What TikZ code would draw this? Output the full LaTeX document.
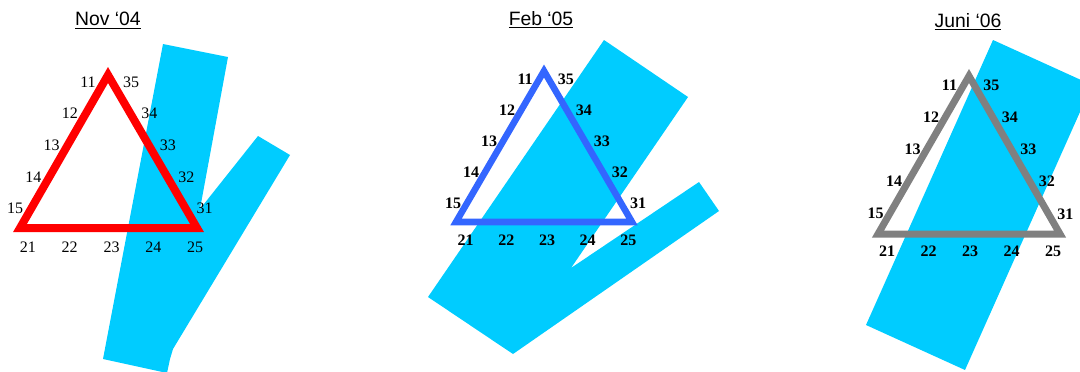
\documentclass[tikz,border=0pt]{standalone}
\usepackage{fontspec}
\setmainfont{Liberation Serif}
\newfontfamily\headfont{Liberation Sans}
\usepackage{xcolor}
\usepackage{tikz}
\usetikzlibrary{calc,positioning}
\definecolor{ZoneCyan}{HTML}{00CCFF}
\definecolor{TriRed}{HTML}{FF0000}
\definecolor{TriBlue}{HTML}{3366FF}
\definecolor{TriGray}{HTML}{808080}

\tikzset{
  zone/.style={fill=ZoneCyan},
  tri/.style={line width=#1, line join=miter},
  num/.style={font=\fontsize{12}{14}\selectfont, inner sep=0pt, text=black},
  numbold/.style={font=\fontsize{12}{14}\selectfont\bfseries, inner sep=0pt, text=black},
  headline/.style={font=\headfont\fontsize{14.5}{16}\selectfont, anchor=base, inner sep=0pt}
}

\begin{document}
\begin{tikzpicture}[x=0.75pt,y=-0.75pt]
  \useasboundingbox (0,0) rectangle (1080,371);
  \clip (0,0) rectangle (1080,371);

  % Nov '04
  \node[headline] (novtitle) at (108,26) {\underline{Nov ‘04}};
  \fill[zone] (163,44) -- (228,57) -- (200,209) -- (258,136) -- (290,155) -- (173,349)
    .. controls (171,354) .. (170,359) -- (167,373) -- (103,359) -- cycle;
  \coordinate (nova) at (108,75);
  \coordinate (novb) at (20,228);
  \coordinate (novc) at (197,228);
  \draw[tri=6pt,TriRed] (nova) -- (novb) -- (novc) -- cycle;
  \foreach \k in {0,...,4} {
    \pgfmathsetmacro\f{0.045+0.207*\k}
    \pgfmathsetmacro\g{0.045+0.236*\k}
    \pgfmathtruncatemacro\l{11+\k}
    \pgfmathtruncatemacro\r{35-\k}
    \pgfmathtruncatemacro\b{21+\k}
    \node[num] (nov\l) at ($(nova)!\f!(novb)+(-16,0)$) {\l};
    \node[num] (nov\r) at ($(nova)!\f!(novc)+(19,0)$) {\r};
    \node[num] (nov\b) at ($(novb)!\g!(novc)+(0,19)$) {\b};
  }

  % Feb '05
  \node[headline] (febtitle) at (541,25) {\underline{Feb ‘05}};
  \fill[zone] (604,40) -- (688,97) -- (571,268) -- (699,182) -- (719,211) -- (513,354)
    -- (428,297) -- cycle;
  \coordinate (feba) at (544,71);
  \coordinate (febb) at (456,222);
  \coordinate (febc) at (632,222);
  \draw[tri=4.9pt,TriBlue] (feba) -- (febb) -- (febc) -- cycle;
  \foreach \k in {0,...,4} {
    \pgfmathsetmacro\f{0.055+0.205*\k}
    \pgfmathsetmacro\g{0.055+0.231*\k}
    \pgfmathtruncatemacro\l{11+\k}
    \pgfmathtruncatemacro\r{35-\k}
    \pgfmathtruncatemacro\b{21+\k}
    \node[numbold] (feb\l) at ($(feba)!\f!(febb)+(-14,0)$) {\l};
    \node[numbold] (feb\r) at ($(feba)!\f!(febc)+(17,0)$) {\r};
    \node[numbold] (feb\b) at ($(febb)!\g!(febc)+(0,18)$) {\b};
  }

  % Juni '06
  \node[headline] (juntitle) at (968,27) {\underline{Juni ‘06}};
  \fill[zone] (993,40) -- (1092,85) -- (965,370) -- (866,325) -- cycle;
  \coordinate (juna) at (969,76);
  \coordinate (junb) at (878,234);
  \coordinate (junc) at (1060,234);
  \draw[tri=5.25pt,TriGray] (juna) -- (junb) -- (junc) -- cycle;
  \foreach \k in {0,...,4} {
    \pgfmathsetmacro\f{0.06+0.203*\k}
    \pgfmathsetmacro\g{0.05+0.228*\k}
    \pgfmathtruncatemacro\l{11+\k}
    \pgfmathtruncatemacro\r{35-\k}
    \pgfmathtruncatemacro\b{21+\k}
    \node[numbold] (jun\l) at ($(juna)!\f!(junb)+(-14,0)$) {\l};
    \node[numbold] (jun\r) at ($(juna)!\f!(junc)+(17,0)$) {\r};
    \node[numbold] (jun\b) at ($(junb)!\g!(junc)+(0,17)$) {\b};
  }
\end{tikzpicture}
\end{document}
